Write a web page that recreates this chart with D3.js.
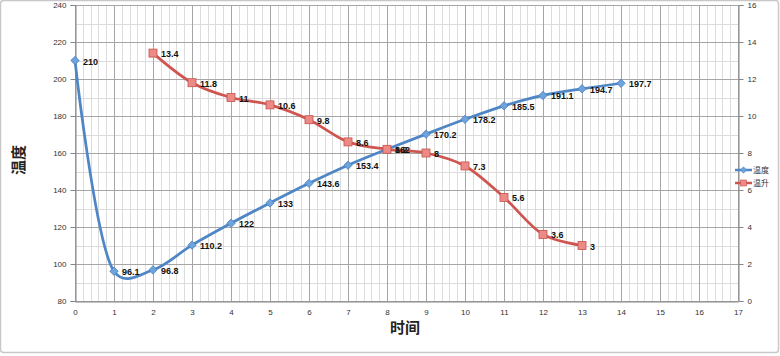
<!DOCTYPE html>
<html><head><meta charset="utf-8">
<script src="https://cdn.jsdelivr.net/npm/d3@7"></script>
<style>body{margin:0;background:#fff}svg text{font-family:"Liberation Sans",Arial,sans-serif}</style>
</head><body><svg id="c" width="780" height="356"></svg>
<script>
const tempX = [0,1,2,3,4,5,6,7,8,9,10,11,12,13,14];
const tempY = [210,96.1,96.8,110.2,122,133,143.6,153.4,162,170.2,178.2,185.5,191.1,194.7,197.7];
const riseX = [2,3,4,5,6,7,8,9,10,11,12,13];
const riseY = [13.4,11.8,11,10.6,9.8,8.6,8.2,8,7.3,5.6,3.6,3];
const xTicks = d3.range(0,18);
const yLeftTicks = [80,100,120,140,160,180,200,220,240];
const yRightTicks = [0,2,4,6,8,10,12,14,16];
const seriesNames = ["温度","温升"];

const svg = d3.select("#c");
const L=75,R=738,T=5,B=301;
const x = d3.scaleLinear().domain([0,17]).range([L,R]);
const yL = d3.scaleLinear().domain([80,240]).range([B,T]);
const yR = d3.scaleLinear().domain([0,16]).range([B,T]);

svg.append("rect").attr("x",0.5).attr("y",0.5).attr("width",778).attr("height",352).attr("rx",3)
  .attr("fill","#fff").attr("stroke","#c8c8c8").attr("stroke-width",1.5);

const g = svg.append("g");
d3.range(0,17.001,0.2).forEach(v=>{
  g.append("line").attr("x1",Math.round(x(v))+0.5).attr("x2",Math.round(x(v))+0.5).attr("y1",T).attr("y2",B)
   .attr("stroke","#dcdcdc").attr("stroke-width",1);
});
d3.range(80,241,10).forEach(v=>{
  g.append("line").attr("y1",Math.round(yL(v))+0.5).attr("y2",Math.round(yL(v))+0.5).attr("x1",L).attr("x2",R)
   .attr("stroke", v%20===0?"#a6a6a6":"#dcdcdc").attr("stroke-width",1);
});
xTicks.forEach(v=>{
  g.append("line").attr("x1",Math.round(x(v))+0.5).attr("x2",Math.round(x(v))+0.5).attr("y1",T).attr("y2",B)
   .attr("stroke","#a6a6a6").attr("stroke-width",1);
});

const axL = svg.append("g").attr("transform",`translate(${L+0.5},0)`)
  .call(d3.axisLeft(yL).tickValues(yLeftTicks).tickSize(5).tickPadding(4));
const axR = svg.append("g").attr("transform",`translate(${R+0.5},0)`)
  .call(d3.axisRight(yR).tickValues(yRightTicks).tickSize(5).tickPadding(4));
const axB = svg.append("g").attr("transform",`translate(0,${B+0.5})`)
  .call(d3.axisBottom(x).tickValues(xTicks).tickSize(0).tickPadding(8).tickFormat(d3.format("d")));
[axL,axR,axB].forEach(a=>{
  a.selectAll("path,line").attr("stroke","#868686");
  a.selectAll("text").attr("font-size",8).attr("fill","#333");
});

svg.append("text").attr("x",405).attr("y",333).attr("text-anchor","middle")
  .attr("font-size",15).attr("font-weight","bold").attr("fill","#222")
  .style("font-family","'Noto Sans CJK SC',sans-serif").text("时间");
svg.append("text").attr("transform","translate(24,160) rotate(-90)").attr("text-anchor","middle")
  .attr("font-size",15).attr("font-weight","bold").attr("fill","#222")
  .style("font-family","'Noto Sans CJK SC',sans-serif").text("温度");

const blue="#4f86c6", red="#cf5650";
const tData = tempX.map((d,i)=>[d,tempY[i]]);
const rData = riseX.map((d,i)=>[d,riseY[i]]);
svg.append("path").attr("d",d3.line().x(d=>x(d[0])).y(d=>yL(d[1])).curve(d3.curveCatmullRom.alpha(0.3))(tData))
  .attr("fill","none").attr("stroke",blue).attr("stroke-width",2.75);
svg.append("path").attr("d",d3.line().x(d=>x(d[0])).y(d=>yR(d[1])).curve(d3.curveCatmullRom.alpha(0.3))(rData))
  .attr("fill","none").attr("stroke",red).attr("stroke-width",2.75);

const diamond = d3.symbol().type(d3.symbolDiamond2).size(45);
svg.selectAll(".tm").data(tData).join("path").attr("d",diamond)
  .attr("transform",d=>`translate(${x(d[0])},${yL(d[1])})`)
  .attr("fill","#6fa3dc").attr("stroke","#4a7fbf").attr("stroke-width",0.8);
svg.selectAll(".rm").data(rData).join("rect")
  .attr("x",d=>x(d[0])-4).attr("y",d=>yR(d[1])-4).attr("width",8).attr("height",8)
  .attr("fill","#ec8a85").attr("stroke","#c9504b").attr("stroke-width",0.8);

svg.selectAll(".tl").data(tData).join("text").attr("x",d=>x(d[0])+8).attr("y",d=>yL(d[1])+4)
  .attr("font-size",9).attr("font-weight","bold").attr("fill","#111").text(d=>d[1]);
svg.selectAll(".rl").data(rData).join("text").attr("x",d=>x(d[0])+8).attr("y",d=>yR(d[1])+4)
  .attr("font-size",9).attr("font-weight","bold").attr("fill","#111").text(d=>d[1]);

const lg = svg.append("g");
[[blue,"diamond",170],[red,"square",183]].forEach((s,i)=>{
  lg.append("line").attr("x1",735).attr("x2",752).attr("y1",s[2]).attr("y2",s[2]).attr("stroke",s[0]).attr("stroke-width",2.5);
  if(i===0) lg.append("path").attr("d",d3.symbol().type(d3.symbolDiamond2).size(25)).attr("transform",`translate(743.5,${s[2]})`).attr("fill","#6fa3dc").attr("stroke","#4a7fbf").attr("stroke-width",0.6);
  else lg.append("rect").attr("x",740.5).attr("y",s[2]-3).attr("width",6).attr("height",6).attr("fill","#ec8a85").attr("stroke","#c9504b").attr("stroke-width",0.6);
  lg.append("text").attr("x",753).attr("y",s[2]+3).attr("font-size",8).attr("fill","#333")
    .style("font-family","'Noto Sans CJK SC',sans-serif").text(seriesNames[i]);
});
</script></body></html>
